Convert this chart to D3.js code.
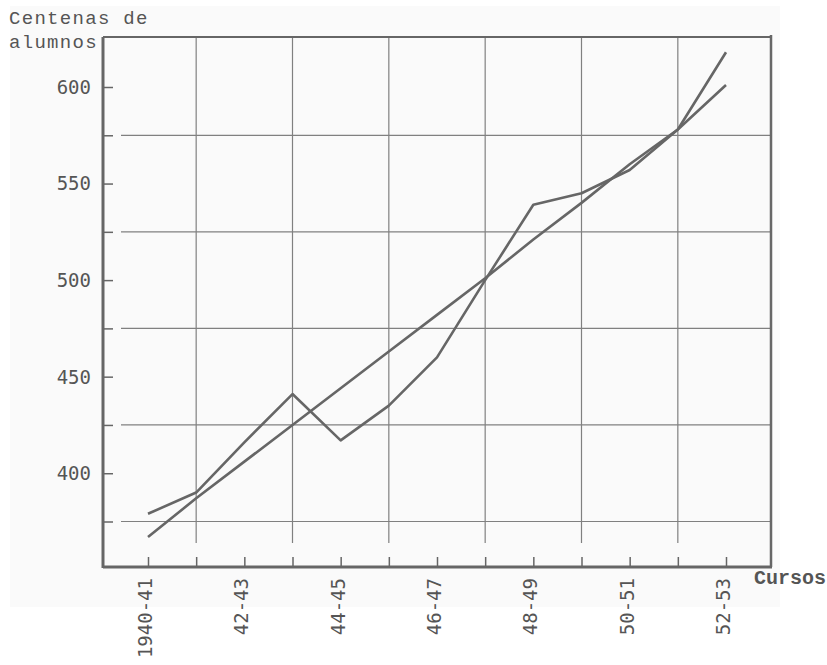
<!DOCTYPE html>
<html>
<head>
<meta charset="utf-8">
<script src="https://cdn.jsdelivr.net/npm/d3@7"></script>
<style>
  html, body { margin: 0; padding: 0; background: #ffffff; }
  svg { display: block; }
</style>
</head>
<body>
<svg id="chart" width="827" height="665"></svg>
<script>
// ---- data ----
const categories = ["1940-41","41-42","42-43","43-44","44-45","45-46","46-47",
                    "47-48","48-49","49-50","50-51","51-52","52-53"];
const actualValues = [379, 390, 416, 441, 417, 435, 460, 500, 539, 545, 557, 578, 618];
const trendValues  = [367, 387, 406, 425, 444, 463, 482, 501, 521, 540, 560, 578, 601];
const xTickLabels = ["1940-41","42-43","44-45","46-47","48-49","50-51","52-53"];
const gridCategories = ["41-42","43-44","45-46","47-48","49-50","51-52"];
const yTickValues = [375, 400, 425, 450, 475, 500, 525, 550, 575, 600];
const yTickLabels = [400, 450, 500, 550, 600];
const yGridValues = [375, 425, 475, 525, 575];

// ---- layout ----
const svg = d3.select("#chart");
const ink = "#666";
const frame = {left: 103, top: 37, right: 771, bottom: 567};

svg.append("rect").attr("x", 10).attr("y", 6).attr("width", 770).attr("height", 601)
  .attr("fill", "#fafafa");

const x = d3.scalePoint().domain(categories).range([148, 726]);
const y = d3.scaleLinear().domain([375, 600]).range([521.5, 87]);

// horizontal grid lines
svg.append("g").selectAll("line").data(yGridValues).join("line")
  .attr("x1", 121).attr("x2", frame.right)
  .attr("y1", d => y(d)).attr("y2", d => y(d))
  .attr("stroke", "#808080").attr("stroke-width", 1.2);

// vertical grid lines
svg.append("g").selectAll("line").data(gridCategories).join("line")
  .attr("x1", d => x(d)).attr("x2", d => x(d))
  .attr("y1", frame.top).attr("y2", 543)
  .attr("stroke", "#808080").attr("stroke-width", 1.2);

// frame top/right
svg.append("line").attr("x1", frame.left).attr("x2", frame.right)
  .attr("y1", frame.top).attr("y2", frame.top)
  .attr("stroke", ink).attr("stroke-width", 2.2);
svg.append("line").attr("x1", frame.right).attr("x2", frame.right)
  .attr("y1", frame.top - 2).attr("y2", frame.bottom)
  .attr("stroke", ink).attr("stroke-width", 2.5);

// y axis
const yAxis = d3.axisRight(y).tickValues(yTickValues).tickSize(10).tickFormat("");
const gy = svg.append("g").attr("transform", `translate(${frame.left},0)`).call(yAxis);
gy.select(".domain").remove();
gy.selectAll(".tick line").attr("stroke", ink).attr("stroke-width", 1.5);
svg.append("line").attr("x1", frame.left).attr("x2", frame.left)
  .attr("y1", frame.top).attr("y2", frame.bottom + 1)
  .attr("stroke", ink).attr("stroke-width", 3);

svg.append("g").selectAll("text").data(yTickLabels).join("text")
  .attr("x", 91).attr("y", d => y(d)).attr("dy", "0.36em")
  .attr("text-anchor", "end")
  .attr("font-family", "DejaVu Sans Mono, monospace").attr("font-size", 19)
  .attr("fill", "#555").text(d => d);

// x axis
const xAxis = d3.axisTop(x).tickSize(10).tickFormat("");
const gx = svg.append("g").attr("transform", `translate(0,${frame.bottom})`).call(xAxis);
gx.select(".domain").remove();
gx.selectAll(".tick line").attr("stroke", ink).attr("stroke-width", 1.5);
svg.append("line").attr("x1", frame.left).attr("x2", frame.right + 1)
  .attr("y1", frame.bottom).attr("y2", frame.bottom)
  .attr("stroke", ink).attr("stroke-width", 3);

svg.append("g").selectAll("text").data(xTickLabels).join("text")
  .attr("transform", d => `translate(${x(d) - 3},578) rotate(-90)`)
  .attr("dy", "0.36em").attr("text-anchor", "end")
  .attr("font-family", "DejaVu Sans Mono, monospace").attr("font-size", 19)
  .attr("fill", "#555").text(d => d);

// data lines
const line = d3.line().x(d => x(d[0])).y(d => y(d[1]));
svg.append("path").datum(categories.map((c, i) => [c, trendValues[i]]))
  .attr("d", line).attr("fill", "none").attr("stroke", ink)
  .attr("stroke-width", 2.6).attr("stroke-linejoin", "round");
svg.append("path").datum(categories.map((c, i) => [c, actualValues[i]]))
  .attr("d", line).attr("fill", "none").attr("stroke", ink)
  .attr("stroke-width", 2.6).attr("stroke-linejoin", "round");

// titles
const titleFont = "Liberation Mono, DejaVu Sans Mono, monospace";
svg.append("text").attr("x", 9).attr("y", 24)
  .attr("font-family", titleFont).attr("font-size", 19).attr("letter-spacing", 1.3)
  .attr("fill", "#555").text("Centenas de");
svg.append("text").attr("x", 9).attr("y", 48)
  .attr("font-family", titleFont).attr("font-size", 19).attr("letter-spacing", 1.3)
  .attr("fill", "#555").text("alumnos");
svg.append("text").attr("x", 754).attr("y", 584)
  .attr("font-family", titleFont).attr("font-size", 20).attr("font-weight", "bold")
  .attr("fill", "#555").text("Cursos");
</script>
</body>
</html>
